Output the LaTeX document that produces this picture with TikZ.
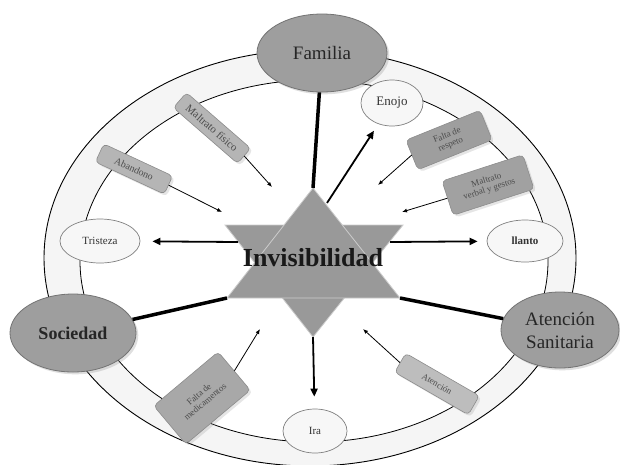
\documentclass[tikz,border=0pt]{standalone}
\usepackage{fontspec}
\setmainfont{Liberation Serif}
\usetikzlibrary{arrows.meta,shapes.geometric,shadows}
\tikzset{
  bigoval/.style={ellipse, draw=black!55, line width=0.8pt, fill=black!38,
    inner sep=0pt, text=black!85, drop shadow={opacity=0.25}},
  smalloval/.style={ellipse, draw=black!50, line width=0.7pt, fill=black!3,
    inner sep=0pt, text=black!80, font=\fontsize{11}{12}\selectfont},
  causebox/.style={draw=black!45, line width=0.6pt, rounded corners=4pt,
    inner sep=1pt, align=center, text=black!70,
    font=\fontsize{9}{9.5}\selectfont, drop shadow={opacity=0.2}},
  starpart/.style={fill=black!40, draw=black!20, line width=0.8pt},
  bond/.style={line width=3.5pt, black},
  effect/.style={line width=1.8pt, -{Triangle[length=8pt,width=7pt]}},
  push/.style={line width=0.8pt, -{Latex[length=5pt,width=4pt]}}
}
\begin{document}
\begin{tikzpicture}[x=1pt,y=-1pt]
  \useasboundingbox (0,0) rectangle (620,464);
  \fill[white] (0,0) rectangle (620,464);
  \draw[line width=0.9pt, fill=black!4] (310,258) ellipse [x radius=266, y radius=208];
  \draw[line width=0.8pt, fill=white] (314,261) ellipse [x radius=234, y radius=181];

  \coordinate (apex) at (313,188);
  \coordinate (upl) at (227,298);
  \coordinate (upr) at (400,298);
  \coordinate (dnl) at (225,225);
  \coordinate (dnr) at (403,225);
  \coordinate (dnb) at (313,337);
  \filldraw[starpart] (dnl) -- (dnr) -- (dnb) -- cycle;
  \filldraw[starpart] (apex) -- (upr) -- (upl) -- cycle;
  \node[font=\fontsize{26}{28}\selectfont\bfseries, text=black!90] (inv) at (313,258) {Invisibilidad};

  \node[bigoval, minimum width=130, minimum height=78, font=\fontsize{19}{20}\selectfont] (fam) at (322,53) {Familia};
  \node[bigoval, minimum width=126, minimum height=78, font=\fontsize{18}{20}\selectfont\bfseries] (soc) at (73,333) {Sociedad};
  \node[bigoval, minimum width=118, minimum height=76, align=center, font=\fontsize{19}{23}\selectfont] (ate) at (560,330) {Atención\\Sanitaria};

  \node[smalloval, minimum width=62, minimum height=46, font=\fontsize{13}{14}\selectfont] (eno) at (392,103) {Enojo};
  \node[smalloval, minimum width=80, minimum height=44] (tri) at (100,241) {Tristeza};
  \node[smalloval, minimum width=76, minimum height=42, font=\fontsize{11}{12}\selectfont\bfseries] (lla) at (525,241) {llanto};
  \node[smalloval, minimum width=64, minimum height=44] (ira) at (315,431) {Ira};

  \node[causebox, fill=black!29, minimum width=85, minimum height=20, rotate=-41, font=\fontsize{11}{12}\selectfont] (mf) at (212,128) {Maltrato físico};
  \node[causebox, fill=black!29, minimum width=76, minimum height=20, rotate=-25, font=\fontsize{10}{11}\selectfont] (ab) at (134,169) {Abandono};
  \node[causebox, fill=black!38, minimum width=80, minimum height=32, rotate=22] (fr) at (449,140) {Falta de\\respeto};
  \node[causebox, fill=black!37, minimum width=85, minimum height=36, rotate=18] (mv) at (488,185) {Maltrato\\verbal y gestos};
  \node[causebox, fill=black!34, minimum width=84, minimum height=50, rotate=40] (fm) at (202,398) {Falta de\\medicamentos};
  \node[causebox, fill=black!26, minimum width=85, minimum height=22, rotate=-30] (at) at (437,384) {Atención};

  \coordinate (s1) at (327,203);
  \coordinate (s2) at (238,242);
  \coordinate (s3) at (390,242);
  \coordinate (mfend) at (272,187);
  \coordinate (abend) at (222,212);
  \coordinate (frend) at (378,185);
  \coordinate (mvend) at (402,212);
  \coordinate (fmend) at (260,329);
  \coordinate (atend) at (363,329);

  \begin{scope}
    \draw[bond] (fam) -- (apex);
    \draw[bond] (soc) -- (upl);
    \draw[bond] (ate) -- (upr);
    \draw[effect, shorten >=8pt] (s1) -- (eno);
    \draw[effect, shorten >=12pt] (s2) -- (tri);
    \draw[effect, shorten >=9pt] (s3) -- (lla);
    \draw[effect, shorten >=12pt] (dnb) -- (ira);
    \draw[push] (mf.east) -- (mfend);
    \draw[push] (ab.east) -- (abend);
    \draw[push] (fr.west) -- (frend);
    \draw[push] (mv.west) -- (mvend);
    \draw[push] (fm.east) -- (fmend);
    \draw[push] (at.west) -- (atend);
  \end{scope}
\end{tikzpicture}
\end{document}
